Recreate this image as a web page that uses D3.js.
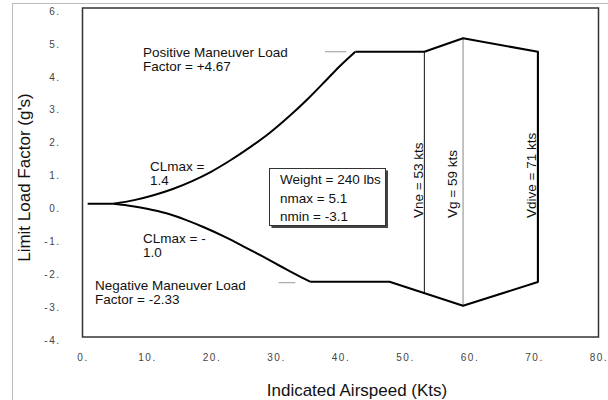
<!DOCTYPE html>
<html><head><meta charset="utf-8">
<script src="https://cdn.jsdelivr.net/npm/d3@7"></script>
<style>
body{margin:0;background:#fff;}
svg{display:block;font-family:"Liberation Sans",Arial,Helvetica,sans-serif;}
</style></head>
<body><svg id="c" width="608" height="400"></svg>
<script>
// ---- data ----
const xTicks = [0,10,20,30,40,50,60,70,80];
const yTicks = [6,5,4,3,2,1,0,-1,-2,-3,-4];
const startV = [0.8, 4.8];
const startN = [0.05, 0.05];
const posCurveV = [4.8, 8, 11, 14, 17, 20, 23, 26, 29, 32, 35, 38, 40, 42.3];
const posCurveN = [0.05, 0.16, 0.31, 0.5, 0.74, 1.03, 1.38, 1.77, 2.2, 2.7, 3.25, 3.85, 4.25, 4.67];
const negCurveV = [4.8, 7, 10, 13, 16, 19, 22, 25, 28, 31, 33, 35.3];
const negCurveN = [0.05, 0.0, -0.1, -0.24, -0.44, -0.68, -0.95, -1.25, -1.56, -1.88, -2.09, -2.32];
const envV = [42.3, 53, 59, 70.6, 70.6, 59, 47.6, 35.3];
const envN = [4.67, 4.67, 5.08, 4.67, -2.33, -3.05, -2.32, -2.32];
const speedNames = ["Vne = 53 kts", "Vg = 59 kts", "Vdive = 71 kts"];
const speedV = [53, 59, 70.6];
const speedTop = [4.67, 5.08, 4.67];
const speedBot = [-2.67, -3.05, -2.33];
const refV0 = [37.6, 30.4];
const refV1 = [40.9, 33.0];
const refN = [4.67, -2.35];
const boxLines = ["Weight = 240 lbs", "nmax = 5.1", "nmin = -3.1"];

const svg = d3.select("#c");
const L = 82.5, R = 598.5, T = 8, B = 337;
const x = d3.scaleLinear().domain([0,80]).range([L,R]);
const y = d3.scaleLinear().domain([-4,6]).range([B,T]);

// page border (scan edge)
svg.append("line").attr("x1",12.5).attr("x2",12.5).attr("y1",3.5).attr("y2",400).attr("stroke","#bbb").attr("stroke-width",1);
svg.append("line").attr("x1",12).attr("x2",608).attr("y1",3.5).attr("y2",3.5).attr("stroke","#bbb").attr("stroke-width",1);

// plot frame
svg.append("rect").attr("x",L).attr("y",T).attr("width",R-L).attr("height",B-T)
  .attr("fill","none").attr("stroke","#333").attr("stroke-width",1.5);

// axes (tick labels only)
const xAxis = d3.axisBottom(x).tickValues(xTicks).tickSize(0).tickFormat(d=>d+".");
const gx = svg.append("g").attr("transform",`translate(0,${B})`).call(xAxis);
gx.select(".domain").remove();
gx.selectAll("text").attr("y",17).attr("dy","0.71em").attr("font-size",10).attr("letter-spacing","1.5px")
  .attr("fill","#444").attr("font-family","Liberation Sans, Arial, sans-serif");
const yAxis = d3.axisLeft(y).tickValues(yTicks).tickSize(0).tickFormat(d=>d+".");
const gy = svg.append("g").attr("transform",`translate(${L},0)`).call(yAxis);
gy.select(".domain").remove();
gy.selectAll("text").attr("x",-22).attr("dy","0.62em").attr("font-size",10).attr("letter-spacing","1.5px")
  .attr("fill","#444").attr("font-family","Liberation Sans, Arial, sans-serif");

// axis titles
svg.append("text").attr("x",357).attr("y",396).attr("text-anchor","middle").attr("font-size",17).attr("fill","#111")
  .text("Indicated Airspeed (Kts)");
svg.append("text").attr("transform","translate(29.5,177.5) rotate(-90)").attr("text-anchor","middle")
  .attr("font-size",17).attr("fill","#111").text("Limit Load Factor (g's)");

// gray reference dashes
refV0.forEach((v,i)=>{
  svg.append("line").attr("x1",x(v)).attr("x2",x(refV1[i])).attr("y1",y(refN[i])).attr("y2",y(refN[i]))
    .attr("stroke","#999").attr("stroke-width",1);
});

// vertical speed lines
const speedStroke = ["#111","#888","#111"];
const speedW = [1,1,1.6];
speedV.forEach((v,i)=>{
  svg.append("line").attr("x1",x(v)).attr("x2",x(v)).attr("y1",y(speedTop[i])).attr("y2",y(speedBot[i]))
    .attr("stroke",speedStroke[i]).attr("stroke-width",speedW[i]);
});

// envelope curves
const line = d3.line().x(d=>x(d[0])).y(d=>y(d[1]));
const smooth = d3.line().x(d=>x(d[0])).y(d=>y(d[1])).curve(d3.curveMonotoneX);
const sty = p=>p.attr("fill","none").attr("stroke","#000").attr("stroke-width",2).attr("stroke-linejoin","round");
svg.append("path").attr("d",line(startV.map((v,i)=>[v,startN[i]]))).call(sty);
svg.append("path").attr("d",smooth(posCurveV.map((v,i)=>[v,posCurveN[i]]))).call(sty);
svg.append("path").attr("d",smooth(negCurveV.map((v,i)=>[v,negCurveN[i]]))).call(sty);
svg.append("path").attr("d",line(envV.map((v,i)=>[v,envN[i]]))).call(sty);

// speed labels
const lblBase = [423, 457, 535.5];
speedNames.forEach((s,i)=>{
  svg.append("text").attr("transform",`translate(${lblBase[i]},218) rotate(-90)`).attr("font-size",13.5)
    .attr("fill","#111").text(s);
});

// annotations
function multi(xp, yp, lines){
  lines.forEach((s,i)=>svg.append("text").attr("x",xp).attr("y",yp+i*14).attr("font-size",13.5).attr("fill","#111").text(s));
}
multi(143, 57, ["Positive Maneuver Load","Factor = +4.67"]);
multi(150, 171, ["CLmax =","1.4"]);
multi(143, 243, ["CLmax = -","1.0"]);
multi(95, 289.5, ["Negative Maneuver Load","Factor = -2.33"]);

// info box with shadow
svg.append("rect").attr("x",271.5).attr("y",170.5).attr("width",116.5).attr("height",57.5).attr("fill","#444");
svg.append("rect").attr("x",269.5).attr("y",168.5).attr("width",116).attr("height",57).attr("fill","#fff")
  .attr("stroke","#333").attr("stroke-width",1);
boxLines.forEach((s,i)=>svg.append("text").attr("x",280).attr("y",184+i*18.5).attr("font-size",13.5)
  .attr("fill","#111").text(s));
</script></body></html>
